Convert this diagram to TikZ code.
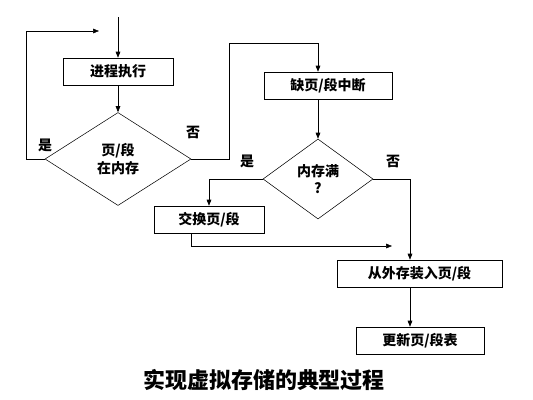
\documentclass[tikz,border=0pt]{standalone}
\usepackage{fontspec}
\usepackage{tikz}
\usetikzlibrary{arrows.meta,positioning,calc,shapes.geometric}
\newfontfamily\cjk{Noto Sans CJK SC}

\begin{document}
\begin{tikzpicture}[x=0.75pt, y=-0.75pt,
  procbox/.style={draw, thin, minimum height=20.25pt, inner sep=0pt, font=\cjk\bfseries\fontsize{10.5}{12}\selectfont},
  decision/.style={draw, thin, diamond, inner sep=0pt, align=center, font=\cjk\bfseries\fontsize{10.5}{13}\selectfont},
  arrow/.style={-{Triangle[length=4.5pt,width=3.5pt]}, thin},
  branchlabel/.style={font=\cjk\bfseries\fontsize{10.5}{12}\selectfont}
]
  \useasboundingbox (0,0) rectangle (533,400);

  % left column
  \coordinate (start) at (118,17);
  \node[procbox, minimum width=82.5pt] (exec) at (118,71.5) {进程执行};
  \node[decision, minimum width=109.5pt, minimum height=69.75pt] (inmem) at (118,159) {页/段\\在内存};
  \coordinate (loopend) at (99,31);
  \node[branchlabel] (yes1) at (45,145) {是};
  \node[branchlabel] (no1) at (193,132) {否};

  % right column
  \node[procbox, minimum width=96pt] (fault) at (328,85.5) {缺页/段中断};
  \node[decision, minimum width=82.5pt, minimum height=60pt] (full) at (318,179) {内存满\\?};
  \node[branchlabel] (yes2) at (247,161) {是};
  \node[branchlabel] (no2) at (393,161) {否};
  \node[procbox, minimum width=82.5pt] (swap) at (209,219.5) {交换页/段};
  \node[procbox, minimum width=123.75pt] (load) at (419.5,273.5) {从外存装入页/段};
  \node[procbox, minimum width=96pt] (update) at (420,340.5) {更新页/段表};
  \coordinate (rgt) at (410,179);
  \coordinate (merge) at (392,246);

  \node[font=\cjk\bfseries\fontsize{16.5}{18}\selectfont] (title) at (264,380) {实现虚拟存储的典型过程};

  \draw[arrow] (start) -- (exec.north);
  \draw[arrow] (exec.south) -- (inmem.north);
  \draw[arrow] (inmem.west) -- ++(-18,0) |- (loopend);
  \draw[arrow] (inmem.east) -- ++(38,0) |- ($(full.north)+(0,-95)$) -- (full.north |- fault.north);
  \draw[arrow] (full.north |- fault.south) -- (full.north);
  \draw[arrow] (full.west) -| (swap.north);
  \draw[arrow] (full.east) -- (rgt) -- (rgt |- load.north);
  \draw[arrow] ($(swap.south)+(-18,0)$) |- (merge);
  \draw[arrow] (rgt |- load.south) -- (rgt |- update.north);
\end{tikzpicture}
\end{document}
